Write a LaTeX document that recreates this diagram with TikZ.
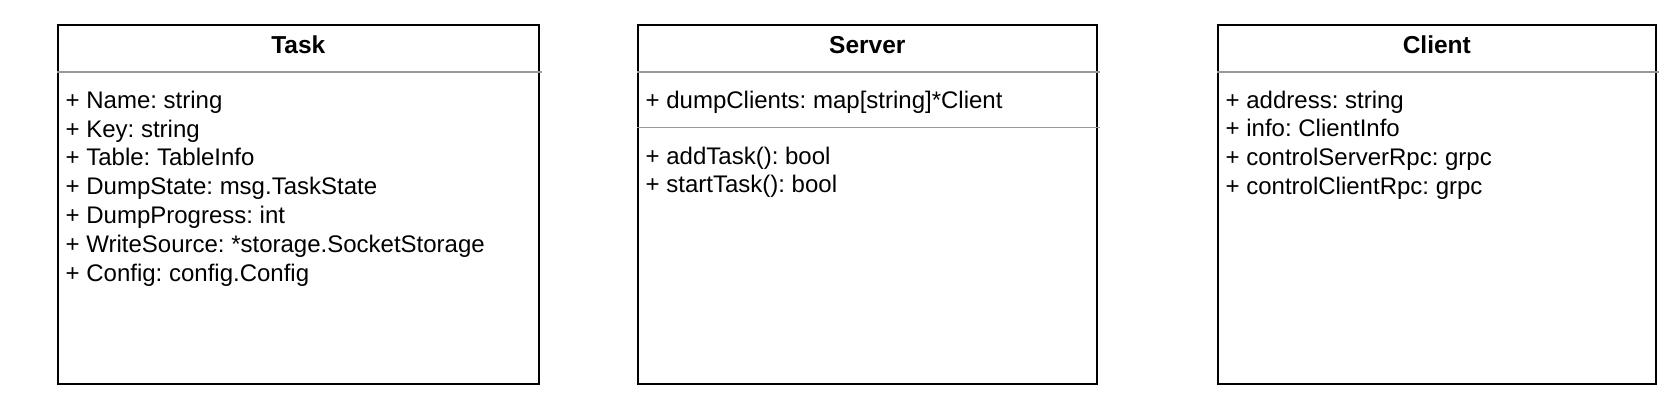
\documentclass[tikz,border=0pt]{standalone}
\usepackage{fontspec}
\setmainfont{Liberation Sans}
\usetikzlibrary{positioning}
\frenchspacing

\tikzset{
  classbox/.style={draw, rectangle, line width=1.6pt, inner sep=0pt, anchor=north west},
  classname/.style={font=\fontsize{24.5}{28.7}\selectfont\bfseries, inner sep=0pt, anchor=base},
  member/.style={font=\fontsize{24}{28.7}\selectfont, inner sep=0pt, anchor=base west},
  sep/.style={draw=black!40, line width=1.6pt}
}

\begin{document}
\begin{tikzpicture}[x=1pt,y=1pt]
\useasboundingbox (0,0) rectangle (1664,416);

% define the classes
  \node[classbox, minimum width=481pt, minimum height=359pt] (task)   at (57,392)   {};
  \node[classbox, minimum width=459pt, minimum height=359pt] (server) at (637,392)  {};
  \node[classbox, minimum width=438pt, minimum height=359pt] (client) at (1217,392) {};

% class names
  \node[classname] (taskname)   at ([yshift=-29.3pt]task.north)   {Task};
  \node[classname] (servername) at ([yshift=-29.3pt]server.north) {Server};
  \node[classname] (clientname) at ([yshift=-29.3pt]client.north) {Client};

% compartment lines
  \draw[sep] ([yshift=-48pt]task.north west)   -- ([xshift=2pt,yshift=-48pt]task.north east);
  \draw[sep] ([yshift=-48pt]server.north west) -- ([xshift=2pt,yshift=-48pt]server.north east);
  \draw[sep] ([yshift=-103.3pt]server.north west) -- ([xshift=2pt,yshift=-103.3pt]server.north east);
  \draw[sep] ([yshift=-48pt]client.north west) -- ([xshift=2pt,yshift=-48pt]client.north east);

% members
  \foreach \txt [count=\i, evaluate=\i as \dy using 84.3+28.8*(\i-1)] in
    {{+ Name: string}, {+ Key: string}, {+ Table: TableInfo},
     {+ DumpState: msg.TaskState}, {+ DumpProgress: int},
     {+ WriteSource: *storage.SocketStorage}, {+ Config: config.Config}}
    \node[member] (task-\i) at ([xshift=8.5pt,yshift=-\dy pt]task.north west) {\txt};

  \node[member] (server-1) at ([xshift=8.5pt,yshift=-84.3pt]server.north west) {+ dumpClients: map[string]*Client};
  \foreach \txt [count=\i, evaluate=\i as \dy using 140.3+28*(\i-1)] in
    {{+ addTask(): bool}, {+ startTask(): bool}}
    \node[member] (server-m\i) at ([xshift=8.5pt,yshift=-\dy pt]server.north west) {\txt};

  \foreach \txt [count=\i, evaluate=\i as \dy using 84.3+28.6*(\i-1)] in
    {{+ address: string}, {+ info: ClientInfo},
     {+ controlServerRpc: grpc}, {+ controlClientRpc: grpc}}
    \node[member] (client-\i) at ([xshift=8.5pt,yshift=-\dy pt]client.north west) {\txt};

\end{tikzpicture}
\end{document}
